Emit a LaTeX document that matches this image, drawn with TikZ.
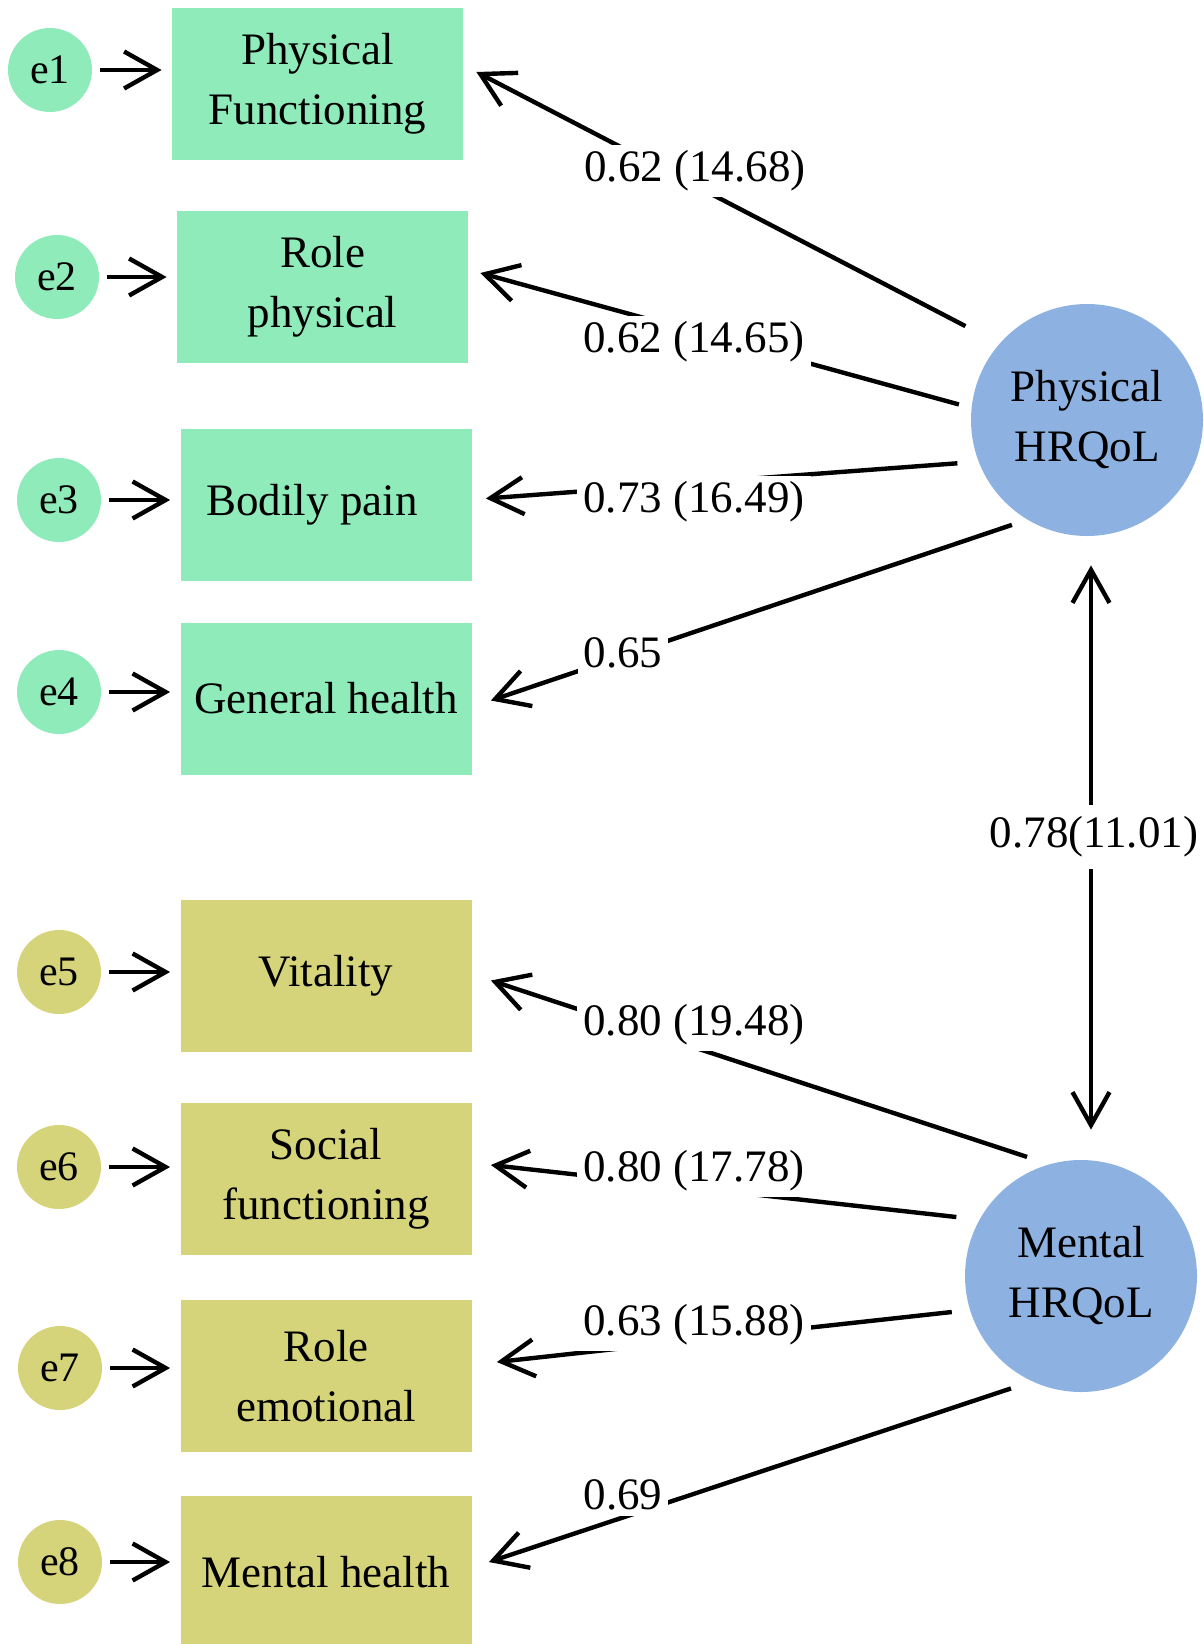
\documentclass[tikz,border=0pt]{standalone}
\usepackage{fontspec}
\setmainfont{Liberation Serif}
\usetikzlibrary{arrows.meta,calc}
\definecolor{grn}{RGB}{143,236,186}
\definecolor{olv}{RGB}{214,212,123}
\definecolor{blu}{RGB}{141,178,225}
\begin{document}
\begin{tikzpicture}[x=0.5pt,y=-0.5pt,
  obs/.style={rectangle, minimum width=145.5pt, minimum height=76pt, align=center, inner sep=0pt, font=\fontsize{22.5}{30}\selectfont},
  err/.style={circle, minimum size=42pt, inner sep=0pt, font=\fontsize{21}{24}\selectfont},
  lat/.style={circle, fill=blu, minimum size=116pt, inner sep=0pt, align=center, font=\fontsize{22.5}{30}\selectfont},
  lbl/.style={fill=white, inner sep=3pt, font=\fontsize{22.5}{26}\selectfont},
  arr/.style={line width=2.2pt, -{Straight Barb[length=16.5pt,width=18.5pt]}},
  dbl/.style={line width=2.2pt, {Straight Barb[length=16.5pt,width=18.5pt]}-{Straight Barb[length=16.5pt,width=18.5pt]}},
  earr/.style={arr, shorten <=4pt, shorten >=5pt}]
\useasboundingbox (0,0) rectangle (1204,1644);
% observed variables
\node[obs, fill=grn] (b1) at (317.5,84) {Physical\\Functioning};
\node[obs, fill=grn] (b2) at (322.5,287) {Role\\physical};
\node[obs, fill=grn] (b3) at (326,504.5) {Bodily pain\hspace*{14pt}};
\node[obs, fill=grn] (b4) at (326,698.5) {General health};
\node[obs, fill=olv] (b5) at (326,975.5) {Vitality};
\node[obs, fill=olv] (b6) at (326,1179) {Social\\functioning};
\node[obs, fill=olv] (b7) at (326,1376) {Role\\emotional};
\node[obs, fill=olv] (b8) at (326,1572) {Mental health};
% error terms
\node[err, fill=grn] (e1) at (50,70) {e1};
\node[err, fill=grn] (e2) at (57,277) {e2};
\node[err, fill=grn] (e3) at (59,500) {e3};
\node[err, fill=grn] (e4) at (59,692) {e4};
\node[err, fill=olv] (e5) at (59,972) {e5};
\node[err, fill=olv] (e6) at (59,1167) {e6};
\node[err, fill=olv] (e7) at (60,1368) {e7};
\node[err, fill=olv] (e8) at (60,1562) {e8};
% latent variables
\node[lat] (P) at (1087,420) {Physical\\HRQoL};
\node[lat] (M) at (1081,1276) {Mental\\HRQoL};
% error arrows
\foreach \i in {1,...,8}{
  \draw[earr] (e\i.east) -- (e\i.east -| b\i.west);
}
% loading arrow tips
\coordinate (t1) at ($(b1.east)+(13,-12)$);
\coordinate (t2) at ($(b2.east)+(12,-14)$);
\coordinate (t3) at ($(b3.east)+(14,-6)$);
\coordinate (t4) at ($(b4.east)+(19,2)$);
\coordinate (t5) at ($(b5.east)+(19,5)$);
\coordinate (t6) at ($(b6.east)+(19,-14)$);
\coordinate (t7) at ($(b7.east)+(25,-14)$);
\coordinate (t8) at ($(b8.east)+(17,-10)$);
% loadings
\draw[arr, shorten <=19pt] (P.139.5) -- (t1);
\draw[arr, shorten <=6.4pt] (P.174.2) -- (t2);
\draw[arr, shorten <=10.5pt] (P.201.3) -- (t3);
\draw[arr, shorten <=8pt] (P.239) -- (t4);
\draw[arr, shorten <=11.5pt] (M.106.2) -- (t5);
\draw[arr, shorten <=11.5pt] (M.151.2) -- (t6);
\draw[arr, shorten <=9pt] (M.197.8) -- (t7);
\draw[arr, shorten <=11pt] (M.245.3) -- (t8);
% correlation
\coordinate (d1) at ($(P.south)+(4,29)$);
\coordinate (d2) at ($(M.north)+(10,-30)$);
\draw[dbl] (d1) -- (d2);
% labels
\node[lbl] (l1) at (695,171) {0.62 (14.68)};
\node[lbl] (l2) at (694,342) {0.62 (14.65)};
\node[lbl] (l3) at (694,502) {0.73 (16.49)};
\node[lbl] (l4) at (623,653) {0.65};
\node[lbl, inner ysep=6pt] (l5) at (1094,837) {0.78(11.01)};
\node[lbl] (l6) at (694,1025) {0.80 (19.48)};
\node[lbl] (l7) at (694,1171) {0.80 (17.78)};
\node[lbl] (l8) at (694,1325) {0.63 (15.88)};
\node[lbl] (l9) at (623,1495) {0.69};
\end{tikzpicture}
\end{document}
